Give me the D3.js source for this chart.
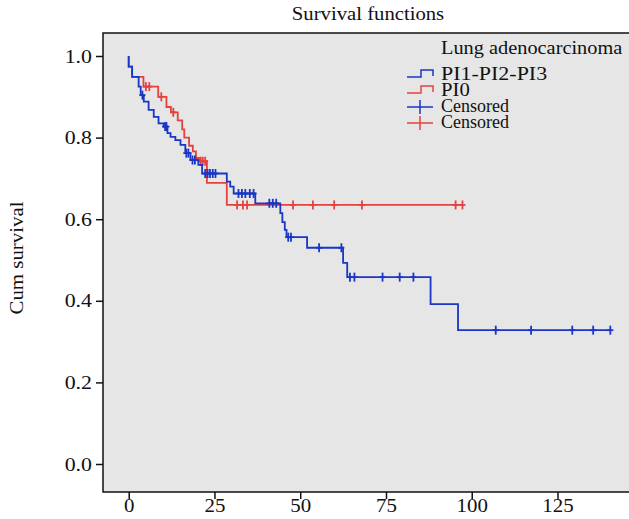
<!DOCTYPE html>
<html>
<head>
<meta charset="utf-8">
<script src="https://cdn.jsdelivr.net/npm/d3@7"></script>
<style>
  body { margin: 0; background: #fff; }
  text { font-family: "Liberation Serif", "Times New Roman", serif; fill: #111; }
</style>
</head>
<body>
<script>
// Kaplan-Meier curves, values
const blueTimes = [0, 1, 2.9, 3.5, 4.4, 5.8, 7.3, 8.7, 10.2, 11.3, 12.2, 13.6, 15.1, 16.5, 18, 20.3, 21.4, 28.6, 29.6, 30.6, 36.9, 44.2, 44.8, 45.5, 46, 52, 62.5, 63.7, 88, 96];
const blueSurv = [0.974, 0.949, 0.925, 0.904, 0.888, 0.868, 0.851, 0.835, 0.827, 0.811, 0.802, 0.794, 0.782, 0.762, 0.745, 0.733, 0.712, 0.692, 0.68, 0.663, 0.639, 0.615, 0.593, 0.574, 0.556, 0.53, 0.493, 0.458, 0.392, 0.328];
const blueCensored = [4, 10.6, 11, 16.8, 17.4, 18.6, 19.3, 22.3, 23, 23.7, 24.5, 25.3, 32, 33, 34, 35.3, 36.4, 41, 42, 43, 46.5, 47.3, 55.5, 62, 64.5, 65.8, 74, 79, 83, 107, 117.3, 129.3, 135.4, 140.4];

const redTimes = [0, 1, 4.3, 8.6, 11, 12.3, 14.3, 15.6, 16.2, 17.6, 18.7, 19.6, 20.5, 22.8, 28.6];
const redSurv = [0.974, 0.949, 0.925, 0.9, 0.875, 0.862, 0.842, 0.82, 0.8, 0.78, 0.766, 0.75, 0.742, 0.689, 0.635];
const redCensored = [5, 6, 9.5, 13, 21, 21.6, 22.3, 31.6, 33.3, 34.5, 47.9, 53.7, 59.9, 68, 95.3, 97.3];

const xTicks = [0, 25, 50, 75, 100, 125];
const yTicks = [0, 0.2, 0.4, 0.6, 0.8, 1.0];
const legendLabels = ["PI1-PI2-PI3", "PI0", "Censored", "Censored"];

var width = 629, height = 519;
var frame = {left: 103, top: 33, bottom: 492, right: 640};

var blue = "#1936c6", red = "#e5413f";

var x = d3.scaleLinear().domain([0, 125]).range([128.7, 557.5]);
var y = d3.scaleLinear().domain([0, 1]).range([464, 56]);

var svg = d3.select("body").append("svg")
    .attr("width", width)
    .attr("height", height);

// widen the serif glyphs a little, the source font runs wider than Liberation Serif
function stretch(sel, k) {
  sel.each(function() {
    var len = this.getComputedTextLength();
    d3.select(this)
        .attr("textLength", len * k)
        .attr("lengthAdjust", "spacingAndGlyphs");
  });
}

svg.append("rect")
    .attr("x", frame.left)
    .attr("y", frame.top)
    .attr("width", frame.right - frame.left)
    .attr("height", frame.bottom - frame.top)
    .attr("fill", "#e6e6e6")
    .attr("stroke", "#111")
    .attr("stroke-width", 1.5);

// axes
var xAxis = d3.axisBottom(x).tickValues(xTicks).tickSize(7).tickPadding(0);
svg.append("g")
    .attr("transform", "translate(0," + frame.bottom + ")")
    .call(xAxis)
    .call(g => g.select(".domain").remove())
    .call(g => g.selectAll(".tick line").attr("stroke", "#111").attr("stroke-width", 1.5))
    .call(g => g.selectAll(".tick text").attr("font-size", 19).attr("font-family", "Liberation Serif").attr("fill", "#111"))
    .call(g => stretch(g.selectAll(".tick text"), 1.1));

var yAxis = d3.axisLeft(y).tickValues(yTicks).tickSize(7).tickPadding(4).tickFormat(d3.format(".1f"));
svg.append("g")
    .attr("transform", "translate(" + frame.left + ",0)")
    .call(yAxis)
    .call(g => g.select(".domain").remove())
    .call(g => g.selectAll(".tick line").attr("stroke", "#111").attr("stroke-width", 1.5))
    .call(g => g.selectAll(".tick text").attr("font-size", 19).attr("font-family", "Liberation Serif").attr("fill", "#111"))
    .call(g => stretch(g.selectAll(".tick text"), 1.15));

svg.append("text")
    .attr("x", 368)
    .attr("y", 20)
    .attr("text-anchor", "middle")
    .attr("font-size", 18)
    .text("Survival functions")
    .call(s => stretch(s, 1.15));

svg.append("text")
    .attr("transform", "translate(23,258) rotate(-90)")
    .attr("text-anchor", "middle")
    .attr("font-size", 18)
    .text("Cum survival")
    .call(s => stretch(s, 1.16));

// step function value at time t
function survAt(times, surv, t) {
  var s = 1;
  for (var i = 0; i < times.length; i++) {
    if (times[i] <= t) s = surv[i];
  }
  return s;
}

var line = d3.line()
    .x(d => x(d[0]))
    .y(d => y(d[1]))
    .curve(d3.curveStepAfter);

function drawCurve(times, surv, censored, color) {
  var pts = [[0, 1]];
  for (var i = 0; i < times.length; i++) pts.push([times[i], surv[i]]);
  var end = d3.max(censored.concat(times));
  pts.push([end, surv[surv.length - 1]]);

  svg.append("path")
      .datum(pts)
      .attr("d", line)
      .attr("fill", "none")
      .attr("stroke", color)
      .attr("stroke-width", 1.8);

  var marks = svg.append("g").selectAll("g")
      .data(censored)
    .enter().append("g")
      .attr("transform", d => "translate(" + x(d) + "," + y(survAt(times, surv, d)) + ")");
  marks.append("line")
      .attr("y1", -4.5).attr("y2", 4.5)
      .attr("stroke", color).attr("stroke-width", 1.8);
  marks.append("line")
      .attr("x1", -3).attr("x2", 3)
      .attr("stroke", color).attr("stroke-width", 1.8);
}

drawCurve(redTimes, redSurv, redCensored, red);
drawCurve(blueTimes, blueSurv, blueCensored, blue);

// legend
var legend = svg.append("g");
legend.append("text")
    .attr("x", 441)
    .attr("y", 54)
    .attr("font-size", 18)
    .text("Lung adenocarcinoma")
    .call(s => stretch(s, 1.13));

var rowY = [75, 91, 107, 123];
var rowColor = [blue, red, blue, red];
var rowStretch = [1.22, 1.15, 1.0, 1.0];

legend.selectAll(".lab")
    .data(legendLabels)
  .enter().append("text")
    .attr("class", "lab")
    .attr("x", 441)
    .attr("y", (d, i) => rowY[i] + 5)
    .attr("font-size", 18)
    .text(d => d)
    .each(function(d, i) { stretch(d3.select(this), rowStretch[i]); });

[0, 1].forEach(function(i) {
  var yy = rowY[i];
  legend.append("path")
      .attr("d", "M407," + (yy + 2) + "H421V" + (yy - 5) + "H433V" + (yy + 1))
      .attr("fill", "none")
      .attr("stroke", rowColor[i])
      .attr("stroke-width", 1.5);
});
[2, 3].forEach(function(i) {
  var yy = rowY[i];
  legend.append("path")
      .attr("d", "M407," + yy + "H433M420," + (yy - 7) + "V" + (yy + 7))
      .attr("fill", "none")
      .attr("stroke", rowColor[i])
      .attr("stroke-width", 1.5);
});
</script>
</body>
</html>
